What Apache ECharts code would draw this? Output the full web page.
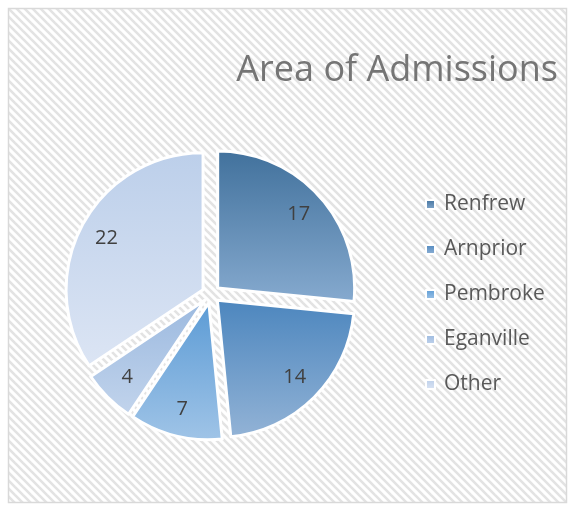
<!DOCTYPE html>
<html>
<head>
<meta charset="utf-8">
<script src="https://cdn.jsdelivr.net/npm/echarts@6/dist/echarts.min.js"></script>
<style>
html,body{margin:0;padding:0;background:#fff;}
#chart{width:570px;height:508px;}
</style>
</head>
<body>
<div id="chart"></div>
<script>
const chartTitle = 'Area of Admissions';
const categories = ['Renfrew', 'Arnprior', 'Pembroke', 'Eganville', 'Other'];
const values = [17, 14, 7, 4, 22];

const sliceColors = [
  ['#41719C', '#86AACF'],
  ['#4C86BE', '#93B3D6'],
  ['#5B9BD5', '#A0C4E7'],
  ['#9BB9DF', '#C2D4EC'],
  ['#BCCFEA', '#DCE5F4']
];

function grad(c) {
  return new echarts.graphic.LinearGradient(0, 0, 0, 1, [
    { offset: 0, color: c[0] }, { offset: 1, color: c[1] }
  ]);
}

// stripe pattern tile
const tile = document.createElement('canvas');
tile.width = 8; tile.height = 8;
const tc = tile.getContext('2d');
tc.fillStyle = '#ffffff';
tc.fillRect(0, 0, 8, 8);
tc.strokeStyle = '#E3E3E3';
tc.lineWidth = 2.6;
for (let k = -1; k <= 1; k++) {
  tc.beginPath();
  tc.moveTo(-2 + k * 8, -2);
  tc.lineTo(10 + k * 8, 10);
  tc.stroke();
}

const chart = echarts.init(document.getElementById('chart'), null, { renderer: 'canvas' });

const mainData = categories.map((n, i) => ({
  name: n, value: values[i], selected: true,
  itemStyle: { color: grad(sliceColors[i]) }
}));
const labelData = categories.map((n, i) => ({
  name: n, value: values[i], selected: true
}));

const center = [211, 294];
const radius = 137;

chart.setOption({
  animation: false,
  backgroundColor: '#ffffff',
  graphic: [{
    type: 'rect',
    shape: { x: 8.5, y: 8.5, width: 558, height: 494 },
    style: { fill: { image: tile, repeat: 'repeat' }, stroke: '#D9D9D9', lineWidth: 1.5 },
    z: -10, silent: true
  }],
  title: {
    text: chartTitle,
    right: 7,
    top: 48,
    textStyle: { fontFamily: 'Open Sans', fontSize: 36, fontWeight: 'normal', color: '#757575' }
  },
  legend: {
    orient: 'vertical',
    left: 420,
    top: 186,
    itemWidth: 9,
    itemHeight: 9,
    itemGap: 18,
    icon: 'rect',
    data: categories,
    textStyle: { fontFamily: 'Open Sans', fontSize: 21, color: '#595959', padding: [0, 0, 0, 4], lineHeight: 27 }
  },
  series: [{
    type: 'pie',
    center: center,
    radius: radius,
    startAngle: 90,
    clockwise: true,
    selectedMode: 'multiple',
    selectedOffset: 9,
    avoidLabelOverlap: false,
    itemStyle: { borderColor: '#ffffff', borderWidth: 3 },
    label: { show: false },
    labelLine: { show: false },
    emphasis: { disabled: true },
    select: { disabled: false, itemStyle: { borderColor: '#ffffff', borderWidth: 3 } },
    data: mainData,
    z: 2
  }, {
    type: 'pie',
    center: center,
    radius: [76, radius],
    startAngle: 90,
    clockwise: true,
    selectedMode: 'multiple',
    selectedOffset: 9,
    avoidLabelOverlap: false,
    silent: true,
    itemStyle: { color: 'rgba(0,0,0,0)', borderWidth: 0 },
    label: {
      show: true, position: 'inside', formatter: '{c}',
      fontFamily: 'Open Sans', fontSize: 20, color: '#404040'
    },
    labelLine: { show: false },
    emphasis: { disabled: true },
    select: { itemStyle: { color: 'rgba(0,0,0,0)', borderWidth: 0 } },
    data: labelData,
    z: 3
  }]
});
</script>
</body>
</html>
